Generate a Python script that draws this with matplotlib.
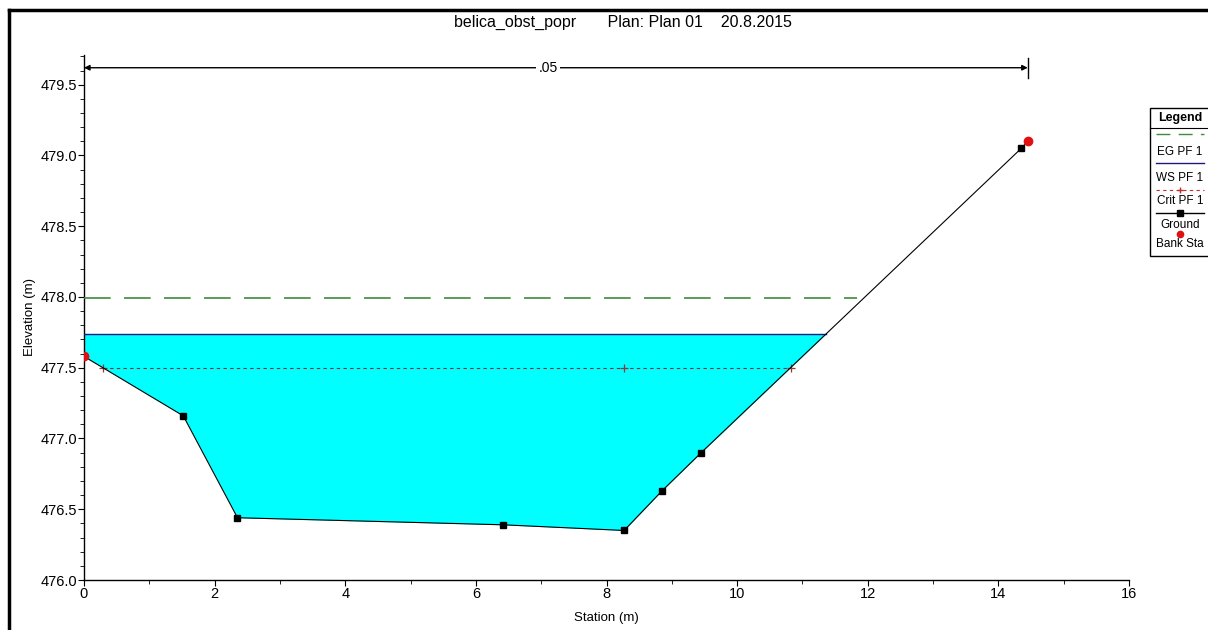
import numpy as np
import matplotlib.pyplot as plt
from matplotlib.lines import Line2D

plt.rcParams['font.family'] = ['Liberation Sans', 'DejaVu Sans']

# ground profile (station, elevation)
ground_x = [0.0, 1.52, 2.35, 6.42, 8.27, 8.85, 9.45, 14.35]
ground_y = [477.58, 477.16, 476.44, 476.39, 476.35, 476.63, 476.90, 479.05]
marker_x = [1.52, 2.35, 6.42, 8.27, 8.85, 9.45, 14.35]
marker_y = [477.16, 476.44, 476.39, 476.35, 476.63, 476.90, 479.05]

bank_x = [0.0, 14.45]
bank_y = [477.58, 479.10]

eg_elev = 477.99
ws_elev = 477.74
crit_elev = 477.50
crit_mid_x = 8.27

n_value = '.05'
n_elev = 479.62

title = 'belica_obst_popr       Plan: Plan 01    20.8.2015'
legend_labels = ['EG PF 1', 'WS PF 1', 'Crit PF 1', 'Ground', 'Bank Sta']

gx = np.array(ground_x)
gy = np.array(ground_y)


def right_bank_x(elev):
    # intersection of a level with the right (rising) slope
    return np.interp(elev, gy[6:], gx[6:])


def left_bank_x(elev):
    if elev >= gy[0]:
        return 0.0
    return np.interp(elev, gy[:3][::-1], gx[:3][::-1])


fig = plt.figure(figsize=(12.08, 6.30), dpi=100)
ax = fig.add_axes([84 / 1208, 50 / 630, 1045 / 1208, 525 / 630])

# water area
xs = np.linspace(0, right_bank_x(ws_elev), 600)
ys = np.interp(xs, gx, gy)
ax.fill_between(xs, ys, ws_elev, where=ys <= ws_elev, color='#00ffff', lw=0, zorder=1)
ax.plot([0, right_bank_x(ws_elev)], [ws_elev, ws_elev], color='#1a1a80', lw=1.0, zorder=3)

# energy grade
ax.plot([0, right_bank_x(eg_elev) - 0.1], [eg_elev, eg_elev], color='#3d8b3d', lw=1.2,
        dashes=(16, 8), zorder=3)

# critical
cl, cr = left_bank_x(crit_elev), right_bank_x(crit_elev)
ax.plot([cl, cr], [crit_elev, crit_elev], color='#7a3030', lw=0.8, dashes=(3, 3), zorder=3)
ax.plot([cl, crit_mid_x, cr], [crit_elev] * 3, ls='none', marker='+', ms=6,
        color='#8b3a3a', mew=0.9, zorder=4)

# ground
ax.plot(ground_x + [bank_x[1]], ground_y + [bank_y[1]], color='black', lw=0.8, zorder=4)
ax.plot(marker_x, marker_y, ls='none', marker='s', ms=5, color='black', zorder=5)
ax.plot(bank_x, bank_y, ls='none', marker='o', ms=6, color='#e01010', zorder=6)

# manning's n bracket
ax.annotate('', xy=(0, n_elev), xytext=(bank_x[1], n_elev),
            arrowprops=dict(arrowstyle='<|-|>', color='black', lw=1.0,
                            mutation_scale=8, shrinkA=0, shrinkB=0), zorder=5)
ax.plot([bank_x[1], bank_x[1]], [479.55, 479.69], color='black', lw=1.0)
ax.text(bank_x[1] / 2 - 0.12, n_elev, n_value, ha='center', va='center', fontsize=10,
        bbox=dict(facecolor='white', edgecolor='none', pad=1.5), zorder=6)

ax.set_xlim(0, 16)
ax.set_ylim(476.0, 479.71)
ax.set_xticks(np.arange(0, 17, 2))
ax.set_xticks(np.arange(0, 17, 1), minor=True)
ax.set_yticks(np.arange(476.0, 479.6, 0.5))
ax.set_yticks(np.arange(476.0, 479.71, 0.1), minor=True)
ax.yaxis.set_major_formatter(plt.FormatStrFormatter('%.1f'))
ax.tick_params(axis='both', which='major', length=4, labelsize=10.5, pad=1, colors='black')
ax.tick_params(axis='both', which='minor', length=3)
for s in ['top', 'right']:
    ax.spines[s].set_visible(False)
ax.spines['left'].set_linewidth(1.0)
ax.spines['bottom'].set_linewidth(1.0)
ax.set_xlabel('Station (m)', fontsize=9.5, labelpad=8)
ax.set_ylabel('Elevation (m)', fontsize=9.5, labelpad=3)

fig.text(623 / 1208, 1 - 22 / 630, title, ha='center', va='center', fontsize=11.5)


# legend box drawn in pixel-like figure coords
def fx(px):
    return px / 1208


def fy(py):
    return 1 - py / 630


box = plt.Rectangle((fx(1150), fy(256)), fx(70), 148 / 630, transform=fig.transFigure,
                    facecolor='white', edgecolor='black', lw=1.0)
fig.add_artist(box)
cx = 1180
fig.text(fx(cx), fy(118), 'Legend', ha='center', va='center', fontsize=9, weight='bold')
fig.add_artist(Line2D([fx(1150), fx(1208)], [fy(128), fy(128)], color='black', lw=0.8))
fig.add_artist(Line2D([fx(1156), fx(1204)], [fy(134), fy(134)], color='#3d8b3d', lw=1.0,
                      dashes=(10, 6)))
fig.text(fx(cx), fy(152), legend_labels[0], ha='center', va='center', fontsize=8.5)
fig.add_artist(Line2D([fx(1156), fx(1204)], [fy(163), fy(163)], color='#1a1a80', lw=1.0))
fig.text(fx(cx), fy(178), legend_labels[1], ha='center', va='center', fontsize=8.5)
fig.add_artist(Line2D([fx(1156), fx(1204)], [fy(190), fy(190)], color='#c03030', lw=0.8,
                      dashes=(3, 3)))
fig.add_artist(Line2D([fx(cx)], [fy(190)], color='#c03030', marker='+', ms=5, ls='none'))
fig.text(fx(cx), fy(201), legend_labels[2], ha='center', va='center', fontsize=8.5)
fig.add_artist(Line2D([fx(1156), fx(1204)], [fy(213), fy(213)], color='black', lw=1.0))
fig.add_artist(Line2D([fx(cx)], [fy(213)], color='black', marker='s', ms=4.5, ls='none'))
fig.text(fx(cx), fy(225), legend_labels[3], ha='center', va='center', fontsize=8.5)
fig.add_artist(Line2D([fx(cx)], [fy(234)], color='#e01010', marker='o', ms=4.5, ls='none'))
fig.text(fx(cx), fy(244), legend_labels[4], ha='center', va='center', fontsize=8.5)

# outer window frame
fig.add_artist(Line2D([fx(9), fx(9)], [fy(10), 0], color='black', lw=2.5))
fig.add_artist(Line2D([fx(9), 1], [fy(10), fy(10)], color='black', lw=2.5))

fig.savefig('out.png', dpi=100)
